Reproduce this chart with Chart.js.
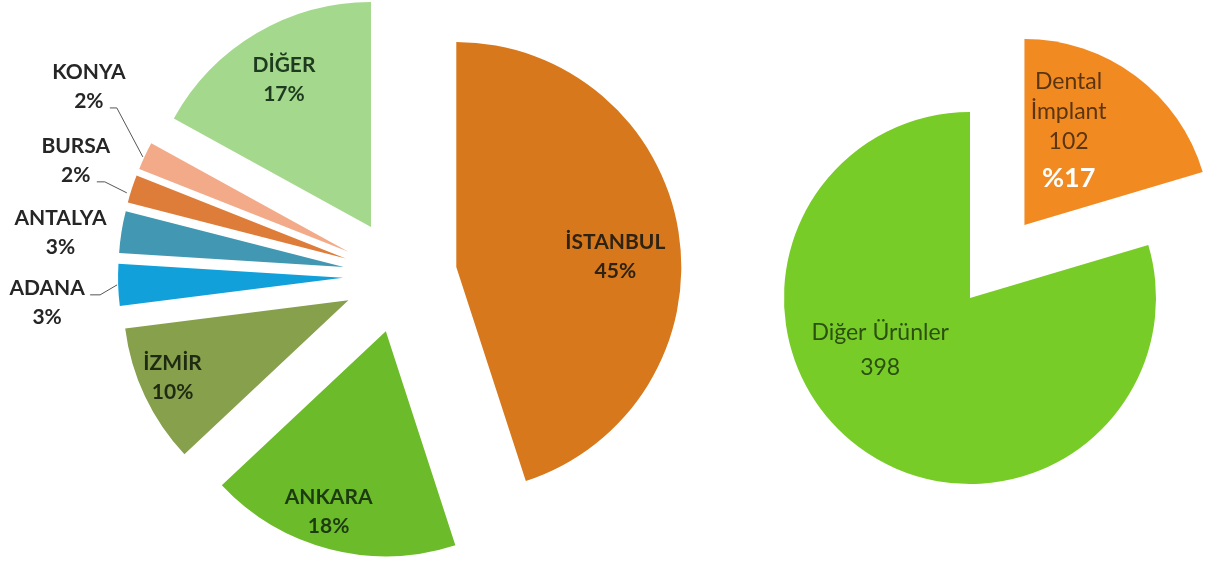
<!DOCTYPE html>
<html>
<head>
<meta charset="utf-8">
<script src="https://cdn.jsdelivr.net/npm/chart.js@4/dist/chart.umd.min.js"></script>
<style>
  html, body { margin: 0; padding: 0; background: #fff; }
  #wrap { position: relative; width: 1208px; height: 565px; }
  canvas { position: absolute; top: 0; }
  #cities { left: 0; }
  #products { left: 700px; }
</style>
</head>
<body>
<div id="wrap">
  <canvas id="cities" width="700" height="565"></canvas>
  <canvas id="products" width="508" height="565"></canvas>
</div>
<script>
// --- data ---
const cityNames = ['İSTANBUL', 'ANKARA', 'İZMİR', 'ADANA', 'ANTALYA', 'BURSA', 'KONYA', 'DİĞER'];
const cityShares = [45, 18, 10, 3, 3, 2, 2, 17];
const cityColors = ['#D8781C', '#6CBB2A', '#87A04C', '#12A0DB', '#4298B2', '#DE7D3A', '#F3AA88', '#A4D98D'];

const productNames = ['Dental İmplant', 'Diğer Ürünler'];
const productCounts = [102, 398];
const productColors = ['#F28A22', '#78CC28'];
const dentalShareText = '%17';

// --- explode distances (px) and label placement ---
const cityGaps = [57, 57, 57, 57, 57, 57, 57, 57];
const productGaps = [91, 0];

const BOLD = 'bold 21px Lato, "Open Sans", sans-serif';
const PLAIN = '23px Lato, "Open Sans", sans-serif';

const cityText = cityNames.map((n, i) => [n, cityShares[i] + '%']);
const cityPlace = [
  { r: 215, dx: 3, dy: 14, color: '#2e2212' },
  { r: 243, dx: -11, dy: 0, color: '#1c3b10' },
  { r: 248, dx: -3, dy: -4, color: '#1f2a12' },
  { out: true, dx: -71, dy: 18, color: '#262626', leader: [[-1, 0], [-18, 10], [-28, 10]] },
  { out: true, dx: -61, dy: 1, color: '#262626' },
  { out: true, dx: -56, dy: -28, color: '#262626', leader: [[-5, 4], [-27, -7], [-35, -7]] },
  { out: true, dx: -56, dy: -69, color: '#262626', leader: [[-2, 1], [-28, -48], [-35, -48]] },
  { r: 228, dx: 0, dy: 0, color: '#1f3b1f' }
];

const productLabels = [
  { index: 0, r: 200, dx: -21, dy: -26, lines: ['Dental', 'İmplant', String(productCounts[0])],
    font: PLAIN, color: '#5a3511', lh: 30 },
  { index: 0, r: 150, dx: 9, dy: 1, lines: [dentalShareText],
    font: 'bold 27px Lato, "Open Sans", sans-serif', color: '#ffffff', lh: 30 },
  { index: 1, r: 80, dx: -42, dy: -12, lines: [productNames[1], String(productCounts[1])],
    font: PLAIN, color: '#2b5010', lh: 35 }
];

function explodePlugin(gaps, labels) {
  return {
    id: 'explode',
    beforeDatasetDraw(chart, args) {
      const ctx = chart.ctx;
      args.meta.data.forEach((arc, i) => {
        const mid = (arc.startAngle + arc.endAngle) / 2;
        const d = gaps[i] || 0;
        ctx.save();
        ctx.translate(Math.cos(mid) * d, Math.sin(mid) * d);
        arc.draw(ctx);
        ctx.restore();
      });
      return false;
    },
    afterDatasetsDraw(chart) {
      const ctx = chart.ctx;
      const arcs = chart.getDatasetMeta(0).data;
      labels.forEach(lb => {
        const arc = arcs[lb.index];
        const mid = (arc.startAngle + arc.endAngle) / 2;
        const gap = gaps[lb.index] || 0;
        const r = lb.out ? arc.outerRadius + gap : lb.r;
        const ax = arc.x + Math.cos(mid) * r;
        const ay = arc.y + Math.sin(mid) * r;
        if (lb.leader) {
          ctx.save();
          ctx.strokeStyle = '#555';
          ctx.lineWidth = 1;
          ctx.beginPath();
          lb.leader.forEach((p, k) => {
            if (k === 0) ctx.moveTo(ax + p[0], ay + p[1]);
            else ctx.lineTo(ax + p[0], ay + p[1]);
          });
          ctx.stroke();
          ctx.restore();
        }
        const cx = ax + lb.dx;
        const cy = ay + lb.dy;
        ctx.save();
        ctx.font = lb.font;
        ctx.fillStyle = lb.color;
        ctx.textAlign = 'center';
        ctx.textBaseline = 'middle';
        const top = cy - (lb.lines.length - 1) * lb.lh / 2;
        lb.lines.forEach((t, k) => ctx.fillText(t, cx, top + k * lb.lh));
        ctx.restore();
      });
    }
  };
}

const cityLabels = cityPlace.map((p, i) => Object.assign({ index: i, lines: cityText[i], font: BOLD, lh: 29 }, p));

const common = {
  responsive: false,
  animation: false,
  events: [],
  plugins: { legend: { display: false }, tooltip: { enabled: false } }
};

new Chart(document.getElementById('cities'), {
  type: 'pie',
  data: {
    labels: cityNames,
    datasets: [{ data: cityShares, backgroundColor: cityColors, borderWidth: 0 }]
  },
  options: Object.assign({}, common, {
    layout: { padding: { left: 175, right: 75, top: 51, bottom: 64 } }
  }),
  plugins: [explodePlugin(cityGaps, cityLabels)]
});

new Chart(document.getElementById('products'), {
  type: 'pie',
  data: {
    labels: productNames,
    datasets: [{ data: productCounts, backgroundColor: productColors, borderWidth: 0 }]
  },
  options: Object.assign({}, common, {
    layout: { padding: { left: 84, right: 52, top: 112, bottom: 81 } }
  }),
  plugins: [explodePlugin(productGaps, productLabels)]
});
</script>
</body>
</html>
